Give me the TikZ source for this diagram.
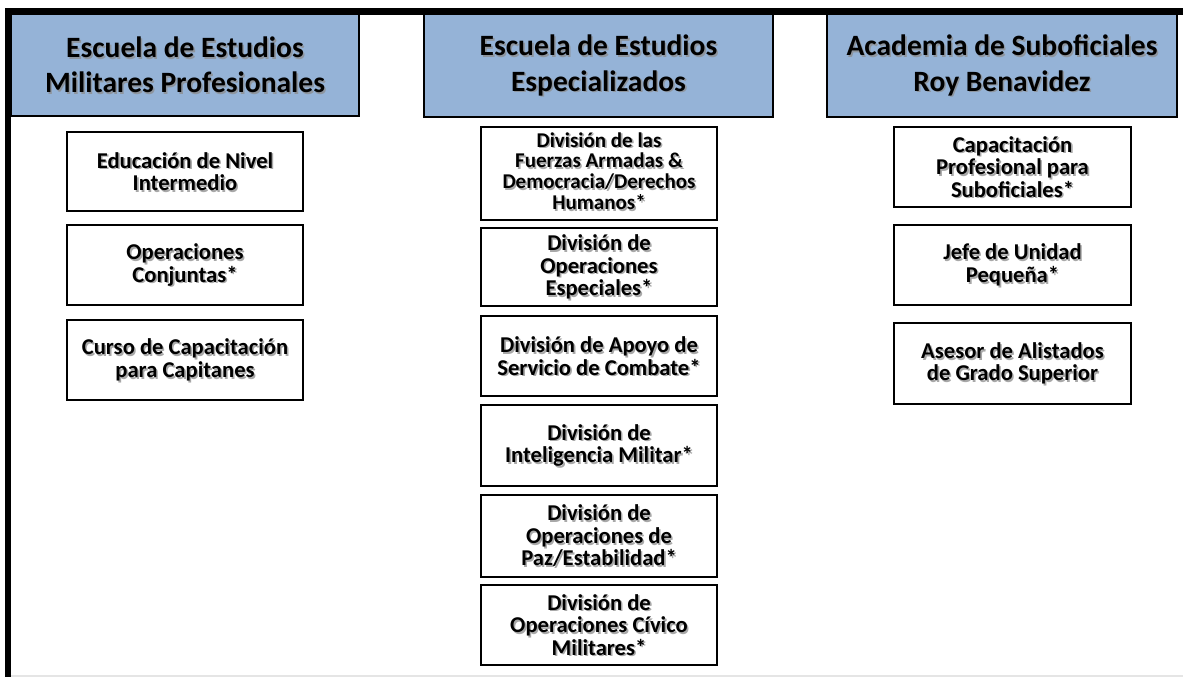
\documentclass[tikz,border=0pt]{standalone}
\usepackage{fontspec}
\setmainfont{Carlito}
\definecolor{hdrblue}{HTML}{95B3D7}
\definecolor{shadowgray}{HTML}{8C8C8C}
\tikzset{
  hdrbox/.style={draw=black, line width=2pt, fill=hdrblue, inner sep=0pt},
  itembox/.style={draw=black, line width=1.8pt, fill=white, inner sep=0pt},
  hdrtext/.style={align=center, font=\bfseries\fontsize{29.5}{35.5}\selectfont, inner sep=0pt},
  itemtext/.style={align=center, font=\bfseries\fontsize{22.6}{22.5}\selectfont, inner sep=0pt},
  tighttext/.style={align=center, font=\bfseries\fontsize{21}{20.8}\selectfont, inner sep=0pt, yshift=2.5pt},
  shadowed/.style={text=shadowgray, opacity=0.75}
}
% #1 anchor node, #2 text style, #3 text
\newcommand\shtxt[3]{%
  \node[#2, shadowed, xshift=1.6pt, yshift=-1.6pt] at (#1.center) {#3};
  \node[#2] (#1-t) at (#1.center) {#3};}
\begin{document}
\begin{tikzpicture}[x=1pt, y=-1pt]
\useasboundingbox (0,0) rectangle (1183,677);
\fill[white] (0,0) rectangle (1183,677);
% bottom faint line
\draw[line width=1.5pt, draw=black!10] (11,676) -- (1183,676);
% headers
\node[hdrbox, minimum width=348pt, minimum height=102pt] (h1) at (185,65) {};
\node[hdrbox, minimum width=349pt, minimum height=103pt] (h2) at (598.5,65.5) {};
\node[hdrbox, minimum width=350pt, minimum height=103pt] (h3) at (1002,65.5) {};
\shtxt{h1}{hdrtext}{Escuela de Estudios\\Militares Profesionales}
\shtxt{h2}{hdrtext}{Escuela de Estudios\\Especializados}
\shtxt{h3}{hdrtext}{Academia de Suboficiales\\Roy Benavidez}
% thick frame (top and left)
\coordinate (fb) at (8,677);
\coordinate (fc) at (8,11.5);
\coordinate (fr) at (1183,11.5);
\draw[line width=6.5pt] (fb) -- (fc) -- (fr);
% column 1
\node[itembox, minimum width=236pt, minimum height=79pt] (b1) at (185,171.5) {};
\node[itembox, minimum width=236pt, minimum height=80pt] (b2) at (185,265) {};
\node[itembox, minimum width=236pt, minimum height=80pt] (b3) at (185,360) {};
\shtxt{b1}{itemtext}{Educación de Nivel\\Intermedio}
\shtxt{b2}{itemtext}{Operaciones\\Conjuntas*}
\shtxt{b3}{itemtext}{Curso de Capacitación\\para Capitanes}
% column 2
\node[itembox, minimum width=236pt, minimum height=93pt] (c1) at (599,173.5) {};
\node[itembox, minimum width=236pt, minimum height=78pt] (c2) at (599,267) {};
\node[itembox, minimum width=236pt, minimum height=80pt] (c3) at (599,356) {};
\node[itembox, minimum width=236pt, minimum height=81pt] (c4) at (599,445.5) {};
\node[itembox, minimum width=236pt, minimum height=82pt] (c5) at (599,536) {};
\node[itembox, minimum width=236pt, minimum height=80pt] (c6) at (599,625) {};
\shtxt{c1}{tighttext}{División de las\\Fuerzas Armadas \&\\Democracia/Derechos\\Humanos*}
\shtxt{c2}{itemtext}{División de\\Operaciones\\Especiales*}
\shtxt{c3}{itemtext}{División de Apoyo de\\Servicio de Combate*}
\shtxt{c4}{itemtext}{División de\\Inteligencia Militar*}
\shtxt{c5}{itemtext}{División de\\Operaciones de\\Paz/Estabilidad*}
\shtxt{c6}{itemtext}{División de\\Operaciones Cívico\\Militares*}
% column 3
\node[itembox, minimum width=237pt, minimum height=80pt] (d1) at (1012.5,167) {};
\node[itembox, minimum width=237pt, minimum height=80pt] (d2) at (1012.5,265) {};
\node[itembox, minimum width=237pt, minimum height=81pt] (d3) at (1012.5,363.5) {};
\shtxt{d1}{itemtext}{Capacitación\\Profesional para\\Suboficiales*}
\shtxt{d2}{itemtext}{Jefe de Unidad\\Pequeña*}
\shtxt{d3}{itemtext}{Asesor de Alistados\\de Grado Superior}
\end{tikzpicture}
\end{document}
